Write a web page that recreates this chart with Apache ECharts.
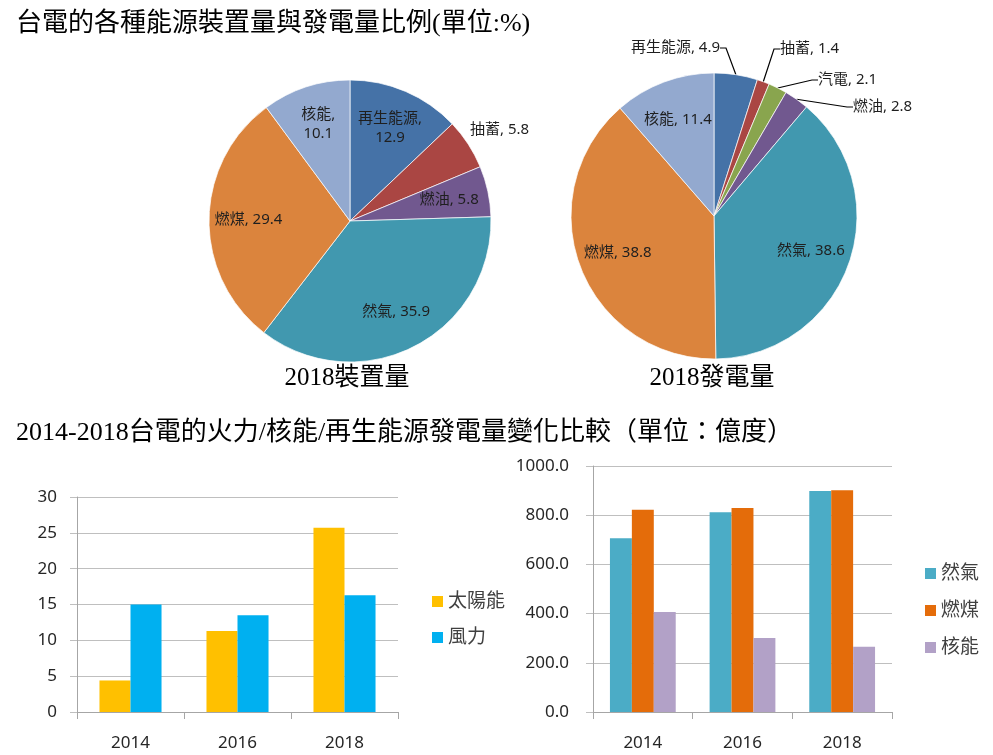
<!DOCTYPE html>
<html>
<head>
<meta charset="utf-8">
<script src="https://cdn.jsdelivr.net/npm/echarts@6/dist/echarts.min.js"></script>
<style>
  html, body { margin: 0; padding: 0; background: #fff; }
  #chart { width: 993px; height: 755px; }
</style>
</head>
<body>
<div id="chart"></div>
<script>
// 2018 裝置量 (%)
const pie1Names = ['再生能源', '抽蓄', '燃油', '然氣', '燃煤', '核能'];
const pie1Values = [12.9, 5.8, 5.8, 35.9, 29.4, 10.1];
// 2018 發電量 (%)
const pie2Names = ['再生能源', '抽蓄', '汽電', '燃油', '然氣', '燃煤', '核能'];
const pie2Values = [4.9, 1.4, 2.1, 2.8, 38.6, 38.8, 11.4];

// 2014-2018 發電量 (億度)
const years = ['2014', '2016', '2018'];
const solar = [4.4, 11.3, 25.7];
const wind = [15.0, 13.5, 16.3];
const gas = [706, 812, 898];
const coal = [822, 829, 901];
const nuclear = [407, 301, 265];

const sliceColors = {
  '再生能源': '#4572A7', '抽蓄': '#AA4643', '汽電': '#89A54E', '燃油': '#71588F',
  '然氣': '#4198AF', '燃煤': '#DB843D', '核能': '#93A9CF'
};

// 標籤換行 / 外部標籤位置
const pie1Wrap = ['再生能源', '核能'];
const pie1Outside = { '抽蓄': [470, 130, 'left'] };
const pie2Outside = {
  '再生能源': [720, 48, 'right'],
  '抽蓄': [780, 49, 'left'],
  '汽電': [818, 80, 'left'],
  '燃油': [853, 107, 'left']
};

const serif = "'Liberation Serif', 'Noto Sans CJK TC', serif";
const sans = "'Noto Sans', 'Noto Sans CJK TC', sans-serif";
const labelFmt = (wrap) => p => p.name + ',' + (wrap.includes(p.name) ? '\n' : ' ') + p.value;

function pieData(names, values, outside, withLine) {
  return names.map((n, i) => ({
    name: n,
    value: values[i],
    itemStyle: { color: sliceColors[n] },
    label: { show: !!outside[n], position: 'outside' },
    labelLine: { show: withLine && !!outside[n] }
  }));
}
function overlayData(names, values, outside) {
  return names.map((n, i) => ({
    name: n,
    value: values[i],
    label: { show: !outside[n] }
  }));
}
const outsideLayout = (names, outside) => params => {
  const p = outside[names[params.dataIndex]];
  if (!p) return {};
  return { x: p[0], y: p[1], align: p[2], verticalAlign: 'middle' };
};

const pieLabelStyle = { fontSize: 15, fontFamily: sans, color: '#1f1f1f', lineHeight: 19 };

const chart = echarts.init(document.getElementById('chart'));

const valueAxis = (grid, max, interval, margin, fmt) => ({
  type: 'value', gridIndex: grid, min: 0, max: max, interval: interval,
  axisLine: { show: true, lineStyle: { color: '#a6a6a6' } },
  axisTick: { show: true, length: 7, lineStyle: { color: '#bfbfbf' } },
  splitLine: { lineStyle: { color: '#bfbfbf' } },
  axisLabel: { margin: margin, fontSize: 17, fontFamily: sans, color: '#262626', formatter: fmt }
});
const catAxis = grid => ({
  type: 'category', gridIndex: grid, data: years,
  axisLine: { lineStyle: { color: '#a6a6a6' } },
  axisTick: { show: true, length: 7, lineStyle: { color: '#a6a6a6' } },
  axisLabel: { margin: 23, fontSize: 17, fontFamily: sans, color: '#262626' }
});

const titleStyle = { fontSize: 26, fontWeight: 'normal', fontFamily: serif, color: '#000' };

const option = {
  animation: false,
  backgroundColor: '#fff',
  title: [
    { text: '台電的各種能源裝置量與發電量比例(單位:%)', left: 16, top: 11, padding: 0, textStyle: titleStyle },
    { text: '2014-2018台電的火力/核能/再生能源發電量變化比較（單位：億度）', left: 16, top: 420, padding: 0, textStyle: titleStyle },
    { text: '2018裝置量', left: 347, top: 366, padding: 0, textAlign: 'center',
      textStyle: { fontSize: 25, fontWeight: 'normal', fontFamily: serif, color: '#000' } },
    { text: '2018發電量', left: 712, top: 366, padding: 0, textAlign: 'center',
      textStyle: { fontSize: 25, fontWeight: 'normal', fontFamily: serif, color: '#000' } }
  ],
  legend: [
    { data: ['太陽能', '風力'], orient: 'vertical', left: 432, top: 592, itemGap: 17,
      itemWidth: 11, itemHeight: 11, icon: 'rect', padding: 0,
      textStyle: { fontSize: 19, fontFamily: sans, color: '#404040' } },
    { data: ['然氣', '燃煤', '核能'], orient: 'vertical', left: 925, top: 564, itemGap: 18,
      itemWidth: 11, itemHeight: 11, icon: 'rect', padding: 0,
      textStyle: { fontSize: 19, fontFamily: sans, color: '#404040' } }
  ],
  grid: [
    { left: 77, right: 595, top: 497, bottom: 43 },
    { left: 593, right: 101, top: 466, bottom: 43 }
  ],
  xAxis: [catAxis(0), catAxis(1)],
  yAxis: [
    valueAxis(0, 30, 5, 20, v => v),
    valueAxis(1, 1000, 200, 24, v => v.toFixed(1))
  ],
  series: [
    { name: '太陽能', type: 'bar', xAxisIndex: 0, yAxisIndex: 0, data: solar,
      barGap: '0%', barCategoryGap: '42%', itemStyle: { color: '#FFC000' } },
    { name: '風力', type: 'bar', xAxisIndex: 0, yAxisIndex: 0, data: wind,
      itemStyle: { color: '#00B0F0' } },
    { name: '然氣', type: 'bar', xAxisIndex: 1, yAxisIndex: 1, data: gas,
      barGap: '0%', barCategoryGap: '34%', itemStyle: { color: '#4BACC6' } },
    { name: '燃煤', type: 'bar', xAxisIndex: 1, yAxisIndex: 1, data: coal,
      itemStyle: { color: '#E46C0A' } },
    { name: '核能', type: 'bar', xAxisIndex: 1, yAxisIndex: 1, data: nuclear,
      itemStyle: { color: '#B2A1C7' } },

    // 裝置量圓餅
    { type: 'pie', center: [350, 221], radius: 141, startAngle: 90, silent: true,
      avoidLabelOverlap: false,
      itemStyle: { borderColor: 'rgba(255,255,255,0.7)', borderWidth: 1 },
      label: Object.assign({ formatter: labelFmt([]) }, pieLabelStyle),
      labelLine: { show: false },
      labelLayout: outsideLayout(pie1Names, pie1Outside),
      data: pieData(pie1Names, pie1Values, pie1Outside, false) },
    { type: 'pie', center: [350, 221], radius: [56, 141], startAngle: 90, silent: true,
      itemStyle: { color: 'transparent' },
      label: Object.assign({ position: 'inside', formatter: labelFmt(pie1Wrap) }, pieLabelStyle),
      labelLine: { show: false },
      data: overlayData(pie1Names, pie1Values, pie1Outside) },

    // 發電量圓餅
    { type: 'pie', center: [714, 216], radius: 143, startAngle: 90, silent: true,
      avoidLabelOverlap: false,
      itemStyle: { borderColor: 'rgba(255,255,255,0.7)', borderWidth: 1 },
      label: Object.assign({ formatter: labelFmt([]) }, pieLabelStyle),
      labelLine: { length: 10, length2: 6, lineStyle: { color: '#000', width: 1.2 } },
      labelLayout: outsideLayout(pie2Names, pie2Outside),
      data: pieData(pie2Names, pie2Values, pie2Outside, true) },
    { type: 'pie', center: [714, 216], radius: [57, 143], startAngle: 90, silent: true,
      itemStyle: { color: 'transparent' },
      label: Object.assign({ position: 'inside', formatter: labelFmt([]) }, pieLabelStyle),
      labelLine: { show: false },
      data: overlayData(pie2Names, pie2Values, pie2Outside) }
  ]
};

chart.setOption(option);
</script>
</body>
</html>
